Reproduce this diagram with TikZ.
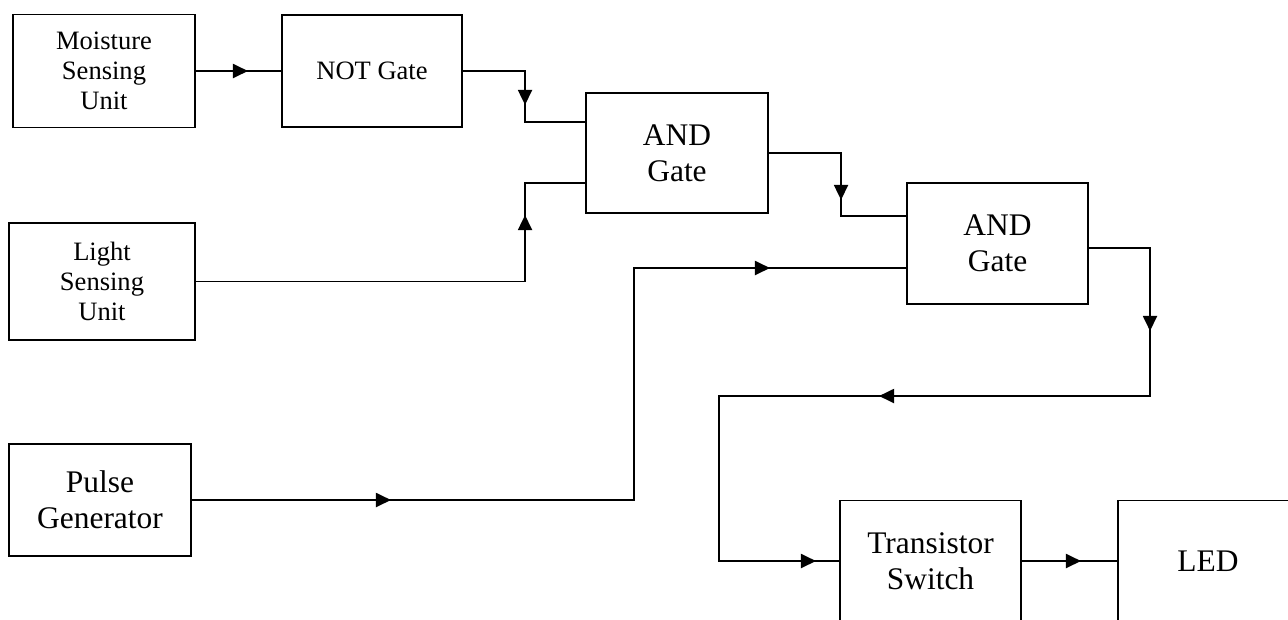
\documentclass[tikz,border=0pt]{standalone}
\usepackage{fontspec}
\setmainfont{Liberation Serif}
\usetikzlibrary{arrows.meta,calc,decorations.markings}

\begin{document}
\begin{tikzpicture}[
    box/.style={rectangle, draw, line width=1.1pt, minimum width=3.64cm, minimum height=2.26cm, align=center, inner sep=0pt, font=\fontsize{15.1}{17.1}\selectfont},
    bigbox/.style={box, minimum height=2.42cm, font=\fontsize{17.9}{20.5}\selectfont},
    wire/.style={line width=1.1pt},
    arrowmark/.style={postaction={decorate, decoration={markings, mark=at position #1 with {\arrow{Triangle[length=0.3cm, width=0.28cm]}}}}}
]
\useasboundingbox (0,0) rectangle (25.76,-12.38);
\clip (0,0) rectangle (25.76,-12.38);

% Sensing units
\node[box] (moist) at (2.08, -1.42) {Moisture\\Sensing\\Unit};
\node[box, minimum width=3.72cm, minimum height=2.34cm] (light) at (2.04, -5.63) {Light\\Sensing\\Unit};
\node[bigbox, minimum height=2.24cm] (pulse) at (2.0, -10.0) {Pulse\\Generator};

% Gates
\node[box, minimum width=3.6cm, minimum height=2.24cm] (notg) at (7.44, -1.42) {NOT Gate};
\node[bigbox, minimum height=2.4cm] (and1) at (13.54, -3.06) {AND\\Gate};
\node[bigbox, minimum width=3.62cm] (and2) at (19.95, -4.87) {AND\\Gate};

% Output stage
\node[bigbox, minimum width=3.62cm] (trans) at (18.61, -11.22) {Transistor\\Switch};
\node[bigbox, minimum width=3.6cm] (led) at (24.16, -11.22) {LED};

% Bends of the feedback line
\coordinate (r1) at (23.0, -7.92);
\coordinate (r2) at (14.38, -7.92);

% Connectors
\draw[wire, arrowmark=1.04cm] (moist) -- (notg);
\draw[wire, arrowmark=1.92cm] (notg.east) -| ($(and1.west)+(-1.2,0.62)$) -- ($(and1.west)+(0,0.62)$);
\draw[wire, arrowmark=7.91cm] (light.east) -| ($(and1.west)+(-1.2,-0.6)$) -- ($(and1.west)+(0,-0.6)$);
\draw[wire, arrowmark=2.38cm] (and1.east) -| ($(and2.west)+(-1.3,0.55)$) -- ($(and2.west)+(0,0.55)$);
\draw[wire, arrowmark=3.98cm, arrowmark=16.2cm] (pulse.east) -| ($(and2.west)+(-5.44,-0.49)$) -- ($(and2.west)+(0,-0.49)$);
\draw[wire, arrowmark=2.88cm, arrowmark=9.6cm, arrowmark=18.04cm] ($(and2.east)+(0,-0.09)$) -| (r1) -- (r2) |- (trans.west);
\draw[wire, arrowmark=1.18cm] (trans) -- (led);

\end{tikzpicture}
\end{document}
